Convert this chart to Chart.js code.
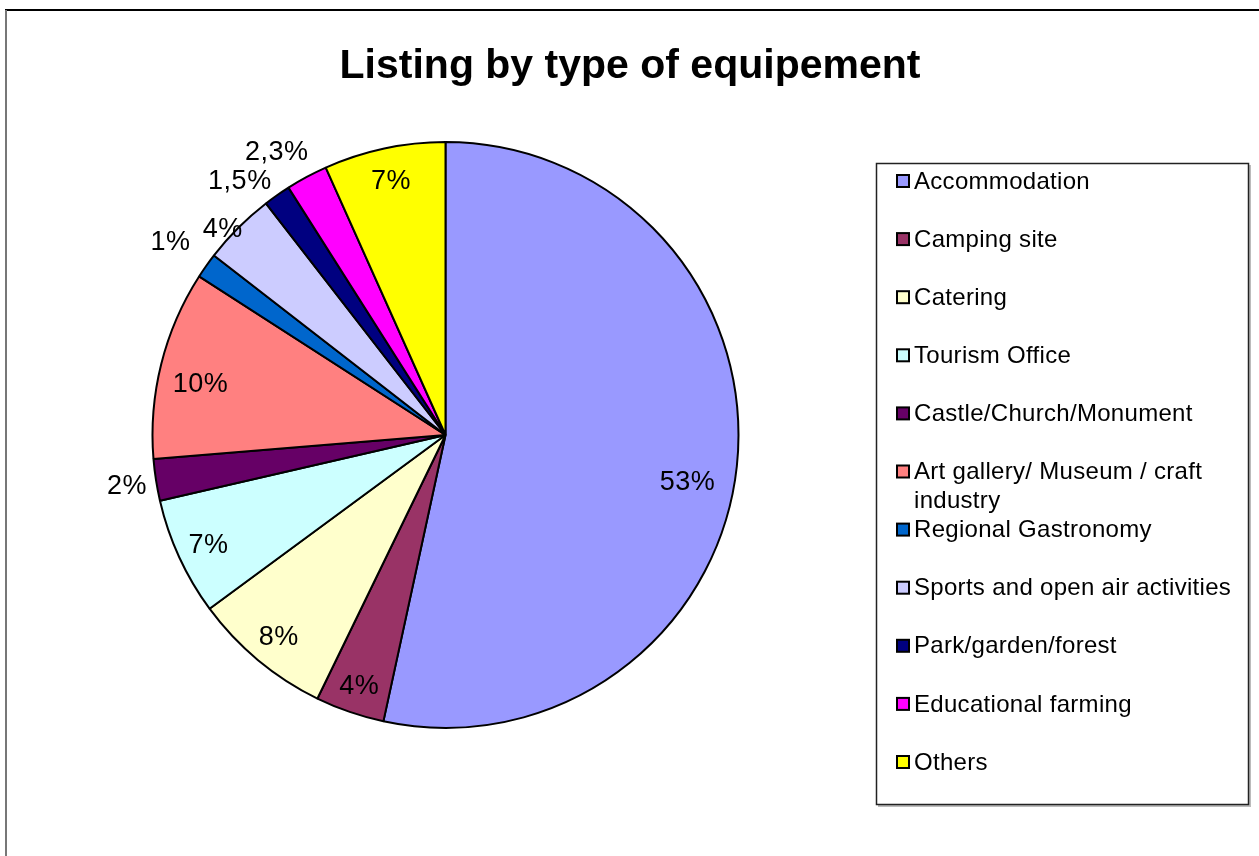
<!DOCTYPE html>
<html>
<head>
<meta charset="utf-8">
<script src="https://cdn.jsdelivr.net/npm/chart.js@4"></script>
<style>
  html, body { margin: 0; padding: 0; background: #fff; }
  canvas { display: block; }
</style>
</head>
<body>
<canvas id="c" width="1259" height="856"></canvas>
<script>
const chartTitle = 'Listing by type of equipement';
const categories = [
  'Accommodation',
  'Camping site',
  'Catering',
  'Tourism Office',
  'Castle/Church/Monument',
  'Art gallery/ Museum / craft industry',
  'Regional Gastronomy',
  'Sports and open air activities',
  'Park/garden/forest',
  'Educational farming',
  'Others'
];
// slice shares (%)
const values = [53.4, 3.8, 7.7, 6.5, 2.3, 10.4, 1.4, 4.0, 1.5, 2.3, 6.7];
// data labels as printed on the chart
const labelTexts = ['53%', '4%', '8%', '7%', '2%', '10%', '1%', '4%', '1,5%', '2,3%', '7%'];
const legendLines = [
  ['Accommodation'],
  ['Camping site'],
  ['Catering'],
  ['Tourism Office'],
  ['Castle/Church/Monument'],
  ['Art gallery/ Museum / craft', 'industry'],
  ['Regional Gastronomy'],
  ['Sports and open air activities'],
  ['Park/garden/forest'],
  ['Educational farming'],
  ['Others']
];
const colors = ['#9999FF', '#993366', '#FFFFCC', '#CCFFFF', '#660066', '#FF8080',
                '#0066CC', '#CCCCFF', '#000080', '#FF00FF', '#FFFF00'];
// label placement: radial factor of radius, angle tweak (degrees)
const labelPlace = [
  {r: 0.84, da: 4.5}, {r: 0.9, da: 0}, {r: 0.89, da: 0}, {r: 0.89, da: 0},
  {r: 1.1, da: 0}, {r: 0.855, da: -2}, {r: 1.15, da: 0}, {r: 1.04, da: -2},
  {r: 1.12, da: -3.7}, {r: 1.13, da: -2.4}, {r: 0.89, da: 0}
];

const FONT = '"Liberation Sans", Arial, sans-serif';

const decorPlugin = {
  id: 'decor',
  beforeDraw(chart) {
    const ctx = chart.ctx;
    ctx.save();
    ctx.fillStyle = '#fff';
    ctx.fillRect(0, 0, chart.width, chart.height);
    // outer frame
    ctx.strokeStyle = '#000';
    ctx.lineWidth = 2;
    ctx.beginPath();
    ctx.moveTo(5, 10); ctx.lineTo(1259, 10);
    ctx.stroke();
    ctx.strokeStyle = '#777';
    ctx.beginPath();
    ctx.moveTo(6, 10); ctx.lineTo(6, 856);
    ctx.stroke();
    // title
    ctx.fillStyle = '#000';
    ctx.font = 'bold 41px ' + FONT;
    ctx.textAlign = 'center';
    ctx.textBaseline = 'alphabetic';
    ctx.fillText(chartTitle, 630, 78);
    // legend box
    ctx.fillStyle = '#bbb';
    ctx.fillRect(878, 165, 373, 642);
    ctx.fillStyle = '#fff';
    ctx.fillRect(876, 163, 373, 642);
    ctx.strokeStyle = '#222';
    ctx.lineWidth = 1.5;
    ctx.strokeRect(876.5, 163.5, 372, 641);
    // legend entries
    ctx.font = '24px ' + FONT;
    if ('letterSpacing' in ctx) ctx.letterSpacing = '0.3px';
    ctx.textAlign = 'left';
    ctx.textBaseline = 'middle';
    legendLines.forEach((lines, i) => {
      const y = 181 + i * 58.1;
      ctx.fillStyle = colors[i];
      ctx.fillRect(897, y - 6, 12, 12);
      ctx.strokeStyle = '#000';
      ctx.lineWidth = 2;
      ctx.strokeRect(897, y - 6, 12, 12);
      ctx.fillStyle = '#000';
      lines.forEach((t, j) => ctx.fillText(t, 914, y + 1 + j * 29));
    });
    ctx.restore();
  },
  afterDatasetsDraw(chart) {
    const ctx = chart.ctx;
    const meta = chart.getDatasetMeta(0);
    ctx.save();
    ctx.font = '27px ' + FONT;
    if ('letterSpacing' in ctx) ctx.letterSpacing = '0.5px';
    ctx.fillStyle = '#000';
    ctx.textAlign = 'center';
    ctx.textBaseline = 'middle';
    meta.data.forEach((arc, i) => {
      const p = arc.getProps(['x', 'y', 'startAngle', 'endAngle', 'outerRadius'], true);
      const mid = (p.startAngle + p.endAngle) / 2 + labelPlace[i].da * Math.PI / 180;
      const r = p.outerRadius * labelPlace[i].r;
      const x = p.x + Math.cos(mid) * r;
      const y = p.y + Math.sin(mid) * r + 2;
      ctx.fillText(labelTexts[i], x, y);
    });
    ctx.restore();
  }
};

new Chart(document.getElementById('c'), {
  type: 'pie',
  data: {
    labels: categories,
    datasets: [{
      data: values,
      backgroundColor: colors,
      borderColor: '#000',
      borderWidth: 2,
      hoverOffset: 0,
      radius: 293
    }]
  },
  options: {
    responsive: false,
    animation: false,
    events: [],
    layout: { padding: { left: 151, right: 519, top: 141, bottom: 127 } },
    plugins: {
      legend: { display: false },
      title: { display: false },
      tooltip: { enabled: false }
    }
  },
  plugins: [decorPlugin]
});
</script>
</body>
</html>
